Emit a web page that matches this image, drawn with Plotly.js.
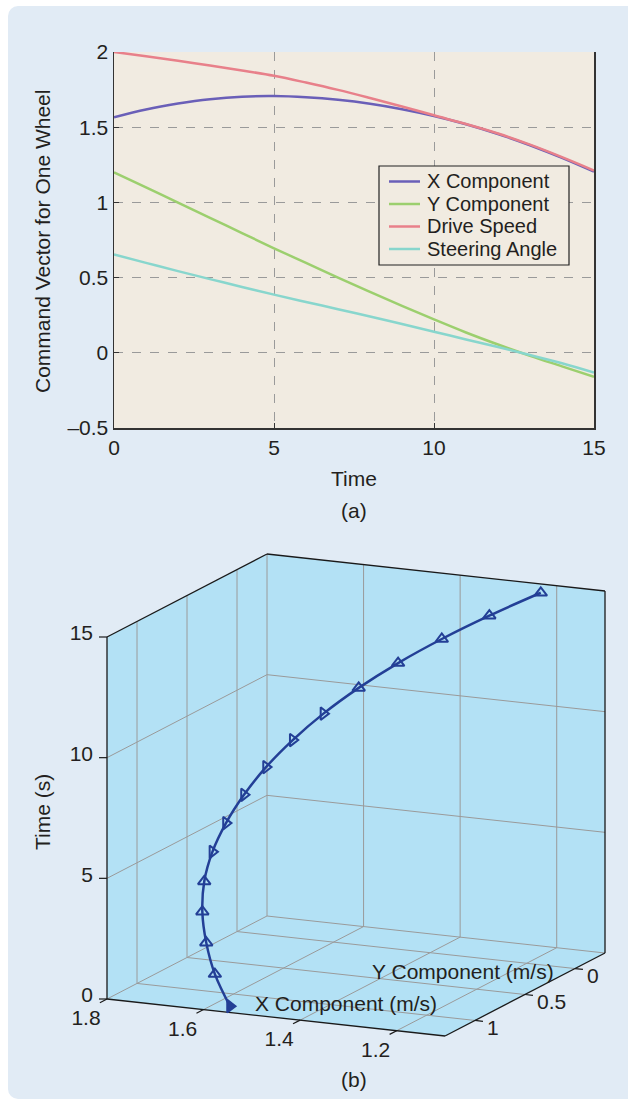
<!DOCTYPE html>
<html>
<head>
<meta charset="utf-8">
<script src="https://cdn.plot.ly/plotly-3.0.1.min.js"></script>
<style>
  html, body { margin: 0; padding: 0; background: #ffffff; }
  #card { position: absolute; left: 8px; top: 6px; width: 640px; height: 1093px; background: #e1ebf5; border-radius: 10px; }
  #chart { position: absolute; left: 0; top: 0; width: 628px; height: 1105px; }
</style>
</head>
<body>
<div id="card"></div>
<div id="chart"></div>
<script>
// ---- data ----
const time = [0, 1, 2, 3, 4, 5, 6, 7, 8, 9, 10, 11, 12, 13, 14, 15];
const xComponent = [1.566, 1.618, 1.657, 1.686, 1.703, 1.707, 1.699, 1.682, 1.656, 1.620, 1.575, 1.520, 1.455, 1.380, 1.296, 1.204];
const yComponent = [1.200, 1.100, 0.998, 0.897, 0.796, 0.695, 0.598, 0.500, 0.405, 0.312, 0.222, 0.135, 0.055, -0.020, -0.090, -0.160];
const driveSpeed = [2.000, 1.972, 1.942, 1.910, 1.877, 1.842, 1.797, 1.748, 1.694, 1.638, 1.579, 1.521, 1.458, 1.384, 1.301, 1.212];
const steeringAngle = [0.654, 0.598, 0.543, 0.490, 0.438, 0.387, 0.338, 0.290, 0.241, 0.191, 0.140, 0.089, 0.038, -0.015, -0.070, -0.132];

const seriesNames = ['X Component', 'Y Component', 'Drive Speed', 'Steering Angle'];
const timeTicks = [0, 5, 10, 15];
const valueTicks = [-0.5, 0, 0.5, 1, 1.5, 2];
const valueTickText = ['\u20130.5', '0', '0.5', '1', '1.5', '2'];

// 3-D panel axes
const xCompRange = [1.1, 1.8];
const yCompRange = [-0.3, 1.3];
const zTimeRange = [0, 15];
const xCompTicks = [1.8, 1.6, 1.4, 1.2];
const yCompTicks = [0, 0.5, 1];
const zTimeTicks = [0, 5, 10, 15];

// ---- styles ----
const FONT = 'Liberation Sans, Arial, Helvetica, sans-serif';
const FS = 21;
const TXT = '#231f20';
const colors = ['#6a5fb8', '#9ccf6e', '#e8808a', '#88d6cd'];
const markerSymbols = ['triangle-right', 'triangle-up-open', 'triangle-up-open', 'triangle-up-open', 'triangle-up-open',
  'triangle-right-open', 'triangle-right-open', 'triangle-right-open', 'triangle-right-open', 'triangle-right-open', 'triangle-right-open',
  'triangle-up-open', 'triangle-up-open', 'triangle-up-open', 'triangle-up-open', 'triangle-up-open'];

// ---- top chart traces ----
const seriesData = [xComponent, yComponent, driveSpeed, steeringAngle];
const traces = seriesData.map((arr, i) => ({
  type: 'scatter', mode: 'lines', x: time, y: arr, name: seriesNames[i],
  line: { color: colors[i], width: 2.5, shape: 'spline' },
  xaxis: 'x', yaxis: 'y', hoverinfo: 'skip', showlegend: false
}));

// ---- oblique (orthographic) projection of the 3-D box onto a pixel-scaled 2-D axis ----
const O = [107, 999], EX = [338, 37], EY = [160, -83], EZ = [0, -362];
function P(u, v, w) { return [O[0] + u * EX[0] + v * EY[0] + w * EZ[0], O[1] + u * EX[1] + v * EY[1] + w * EZ[1]]; }
const uOf = X => (xCompRange[1] - X) / (xCompRange[1] - xCompRange[0]);
const vOf = Y => (yCompRange[1] - Y) / (yCompRange[1] - yCompRange[0]);
const wOf = Z => (Z - zTimeRange[0]) / (zTimeRange[1] - zTimeRange[0]);

function segTrace(segs, color, width) {
  const xs = [], ys = [];
  segs.forEach(s => { s.forEach(p => { xs.push(p[0]); ys.push(p[1]); }); xs.push(null); ys.push(null); });
  return { type: 'scatter', mode: 'lines', x: xs, y: ys, xaxis: 'x2', yaxis: 'y2',
    line: { color: color, width: width }, hoverinfo: 'skip', showlegend: false, cliponaxis: false };
}

// back panes (floor, left wall, back wall)
const hex = [P(0, 0, 0), P(1, 0, 0), P(1, 1, 0), P(1, 1, 1), P(0, 1, 1), P(0, 0, 1), P(0, 0, 0)];
traces.push({ type: 'scatter', mode: 'lines', x: hex.map(p => p[0]), y: hex.map(p => p[1]), fill: 'toself',
  fillcolor: '#b3e1f5', line: { width: 0 }, xaxis: 'x2', yaxis: 'y2', hoverinfo: 'skip', showlegend: false });

// grid lines
const grid = [];
xCompTicks.forEach(X => { const u = uOf(X); if (u > 0.001 && u < 0.999) { grid.push([P(u, 0, 0), P(u, 1, 0)]); grid.push([P(u, 1, 0), P(u, 1, 1)]); } });
yCompTicks.forEach(Y => { const v = vOf(Y); grid.push([P(0, v, 0), P(1, v, 0)]); grid.push([P(0, v, 0), P(0, v, 1)]); });
zTimeTicks.forEach(Z => { const w = wOf(Z); if (w > 0.001 && w < 0.999) { grid.push([P(0, 0, w), P(0, 1, w)]); grid.push([P(0, 1, w), P(1, 1, w)]); } });
grid.push([P(0, 1, 0), P(0, 1, 1)]); grid.push([P(0, 1, 0), P(1, 1, 0)]); grid.push([P(0, 0, 0), P(0, 1, 0)]);
traces.push(segTrace(grid, '#9a9a9a', 1));

// box edges
const edges = [[P(0, 0, 0), P(0, 0, 1)], [P(0, 0, 0), P(1, 0, 0)], [P(1, 0, 0), P(1, 1, 0)], [P(1, 1, 0), P(1, 1, 1)],
  [P(0, 0, 1), P(0, 1, 1)], [P(0, 1, 1), P(1, 1, 1)]];
traces.push(segTrace(edges, '#1a1a1a', 1.3));

// tick marks
const ticks = [];
const eyLen = Math.hypot(EY[0], EY[1]), exLen = Math.hypot(EX[0], EX[1]);
xCompTicks.forEach(X => { const p = P(uOf(X), 0, 0); ticks.push([p, [p[0] - 8 * EY[0] / eyLen, p[1] - 8 * EY[1] / eyLen]]); });
yCompTicks.forEach(Y => { const p = P(1, vOf(Y), 0); ticks.push([p, [p[0] + 8 * EX[0] / exLen, p[1] + 8 * EX[1] / exLen]]); });
zTimeTicks.forEach(Z => { const p = P(0, 0, wOf(Z)); ticks.push([p, [p[0] - 8, p[1]]]); });
traces.push(segTrace(ticks, '#1a1a1a', 1.2));

// trajectory
const traj = time.map((t, i) => P(uOf(xComponent[i]), vOf(yComponent[i]), wOf(t)));
traces.push({ type: 'scatter', mode: 'lines+markers', x: traj.map(p => p[0]), y: traj.map(p => p[1]),
  xaxis: 'x2', yaxis: 'y2', line: { color: '#233f96', width: 2.5, shape: 'spline' },
  marker: { symbol: markerSymbols, size: 11, color: '#233f96', line: { color: '#233f96', width: 2 } },
  hoverinfo: 'skip', showlegend: false, cliponaxis: false });

// tick labels
function textTrace(pts, labels, pos) {
  return { type: 'scatter', mode: 'text', x: pts.map(p => p[0]), y: pts.map(p => p[1]), text: labels,
    textposition: pos, textfont: { family: FONT, size: FS, color: TXT }, xaxis: 'x2', yaxis: 'y2',
    hoverinfo: 'skip', showlegend: false, cliponaxis: false };
}
traces.push(textTrace(xCompTicks.map(X => { const p = P(uOf(X), 0, 0); return [p[0] - 21, p[1] + 21]; }),
  xCompTicks.map(X => X.toFixed(1)), 'middle center'));
traces.push(textTrace(yCompTicks.map(Y => { const p = P(1, vOf(Y), 0); return [p[0] + 12, p[1] + 9]; }),
  yCompTicks.map(Y => String(Y)), 'middle right'));
traces.push(textTrace(zTimeTicks.map(Z => { const p = P(0, 0, wOf(Z)); return [p[0] - 14, p[1] - 2]; }),
  zTimeTicks.map(Z => String(Z)), 'middle left'));

// ---- manual legend for the top chart ----
const LFS = 20;
const legendShapes = [{ type: 'rect', xref: 'paper', yref: 'paper', x0: 379 / 628, x1: 569 / 628,
  y0: 1 - 265 / 1105, y1: 1 - 166 / 1105, fillcolor: '#f1ebe1', line: { color: '#222', width: 1.2 }, layer: 'above' }];
const legendAnn = [];
seriesNames.forEach((name, i) => {
  const yy = 1 - (181.5 + 22.5 * i) / 1105;
  legendShapes.push({ type: 'line', xref: 'paper', yref: 'paper', x0: 389 / 628, x1: 420 / 628, y0: yy, y1: yy,
    line: { color: colors[i], width: 2.5 }, layer: 'above' });
  legendAnn.push({ text: name, xref: 'paper', yref: 'paper', x: 425 / 628, y: yy, xanchor: 'left', yanchor: 'middle',
    showarrow: false, font: { family: FONT, size: LFS, color: TXT } });
});

const ann = (text, px, py, angle) => ({ text: text, xref: 'paper', yref: 'paper', x: px / 628, y: 1 - py / 1105,
  xanchor: 'center', yanchor: 'middle', textangle: angle || 0, showarrow: false, font: { family: FONT, size: FS, color: TXT } });

const layout = {
  width: 628, height: 1105,
  margin: { l: 0, r: 0, t: 0, b: 0 },
  paper_bgcolor: 'rgba(0,0,0,0)', plot_bgcolor: 'rgba(0,0,0,0)',
  font: { family: FONT, size: FS, color: TXT },
  showlegend: false,
  xaxis: {
    domain: [114 / 628, 594 / 628], range: [0, 15], tickvals: timeTicks,
    showgrid: true, gridcolor: '#9a9a9a', griddash: 'dash', gridwidth: 1,
    showline: true, linecolor: '#333', linewidth: 1.5, mirror: false,
    ticks: 'inside', ticklen: 5, tickcolor: '#333', zeroline: false,
    tickfont: { family: FONT, size: FS, color: TXT }, anchor: 'y'
  },
  yaxis: {
    domain: [1 - 428 / 1105, 1 - 52 / 1105], range: [-0.5, 2],
    tickvals: valueTicks, ticktext: valueTickText,
    showgrid: true, gridcolor: '#9a9a9a', griddash: 'dash', gridwidth: 1,
    showline: true, linecolor: '#333', linewidth: 1.5, mirror: true,
    ticks: 'inside', ticklen: 5, tickcolor: '#333', zeroline: false,
    tickfont: { family: FONT, size: FS, color: TXT }, anchor: 'x'
  },
  xaxis2: { domain: [0, 1], range: [0, 628], visible: false, anchor: 'y2', fixedrange: true },
  yaxis2: { domain: [0, 1], range: [1105, 0], visible: false, anchor: 'x2', fixedrange: true },
  shapes: [{ type: 'rect', xref: 'x domain', yref: 'y domain', x0: 0, x1: 1, y0: 0, y1: 1,
    fillcolor: '#f1ebe1', line: { width: 0 }, layer: 'below' }].concat(legendShapes),
  annotations: [
    ann('Command Vector for One Wheel', 42, 242, -90),
    ann('Time', 354, 478),
    ann('(a)', 354, 510),
    ann('Time (s)', 42, 812, -90),
    ann('X Component (m/s)', 346, 1003),
    ann('Y Component (m/s)', 463, 971),
    ann('(b)', 354, 1079)
  ].concat(legendAnn)
};

Plotly.newPlot('chart', traces, layout, { displayModeBar: false, staticPlot: true });
</script>
</body>
</html>
